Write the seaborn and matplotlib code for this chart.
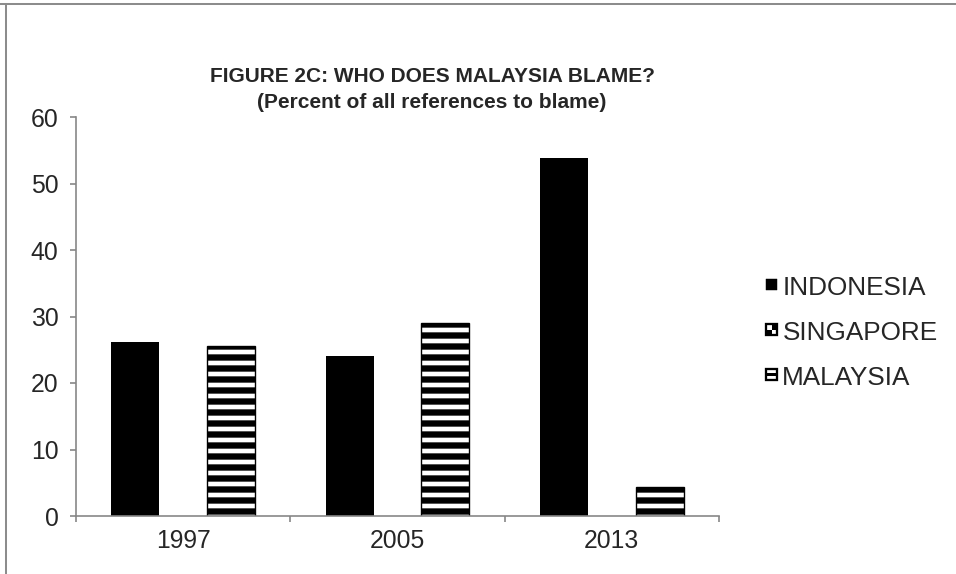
import matplotlib
matplotlib.use("Agg")
import matplotlib.pyplot as plt
import seaborn as sns
import pandas as pd
from matplotlib.lines import Line2D
from matplotlib.patches import Patch, Rectangle
from matplotlib.legend_handler import HandlerBase

# Data
years = ["1997", "2005", "2013"]
countries = ["INDONESIA", "SINGAPORE", "MALAYSIA"]
indonesia = [26.1, 24.1, 53.8]
singapore = [0.0, 0.0, 0.0]
malaysia = [25.6, 29.0, 4.4]

df = pd.DataFrame({
    "year": years * 3,
    "country": [c for c in countries for _ in years],
    "value": indonesia + singapore + malaysia,
})

# Style
sns.set_style("white")
plt.rcParams["font.family"] = ["Liberation Sans", "DejaVu Sans"]
plt.rcParams["hatch.linewidth"] = 6.9
plt.rcParams["hatch.color"] = "black"

DPI = 66
GRAY = "#868686"

fig = plt.figure(figsize=(956 / DPI, 574 / DPI), dpi=DPI)
ax = fig.add_axes([76 / 956, 58 / 574, 643 / 956, 399 / 574])

sns.barplot(
    data=df,
    x="year",
    y="value",
    hue="country",
    hue_order=countries,
    palette={"INDONESIA": "black", "SINGAPORE": "white", "MALAYSIA": "white"},
    saturation=1,
    width=0.67,
    legend=False,
    ax=ax,
)

for country, bars in zip(countries, ax.containers):
    for bar in bars:
        if country == "INDONESIA":
            bar.set_edgecolor("none")
        elif country == "MALAYSIA":
            bar.set_facecolor("white")
            bar.set_edgecolor("black")
            bar.set_linewidth(1.5)
            bar.set_hatch("-")
        else:
            bar.set_linewidth(0)

ax.set_ylim(0, 60)
ax.set_xlim(-0.5, 2.5)
ax.set_yticks(range(0, 61, 10))
ax.set_xlabel("")
ax.set_ylabel("")

sns.despine(ax=ax)
for side in ["left", "bottom"]:
    ax.spines[side].set_color(GRAY)
    ax.spines[side].set_linewidth(1.8)

ax.set_xticks([-0.5, 0.5, 1.5, 2.5], minor=True)
ax.tick_params(axis="x", which="major", length=0, pad=14, labelsize=27)
ax.tick_params(axis="x", which="minor", length=7, width=1.8, color=GRAY, direction="out")
ax.tick_params(axis="y", length=7, width=1.8, color=GRAY, direction="out", pad=12, labelsize=27)
ax.tick_params(axis="both", bottom=True, left=True, which="both")
ax.tick_params(axis="x", which="major", bottom=False)


# Legend icons
class IconHandler(HandlerBase):
    def __init__(self, kind):
        super().__init__()
        self.kind = kind

    def create_artists(self, legend, orig_handle, xdescent, ydescent,
                       width, height, fontsize, trans):
        s = 12
        x0 = -xdescent + width - s
        y0 = -ydescent + (height - s) / 2 + 1
        arts = []
        if self.kind == "INDONESIA":
            arts.append(Rectangle((x0, y0), s, s, fc="black", ec="black", lw=0.5, transform=trans))
        elif self.kind == "SINGAPORE":
            arts.append(Rectangle((x0, y0), s, s, fc="white", ec="black", lw=2.5, transform=trans))
            arts.append(Rectangle((x0 + s / 2, y0 + s / 2), s / 2, s / 2, fc="black", ec="none", transform=trans))
            arts.append(Rectangle((x0, y0), s / 2, s / 2, fc="black", ec="none", transform=trans))
        else:
            arts.append(Rectangle((x0, y0), s, s, fc="white", ec="black", lw=2.5, transform=trans))
            arts.append(Rectangle((x0, y0 + s * 0.35), s, s * 0.3, fc="black", ec="none", transform=trans))
        return arts


handles = [Patch(label=c) for c in countries]
fig.legend(
    handles=handles,
    labels=countries,
    handler_map={h: IconHandler(c) for h, c in zip(handles, countries)},
    loc="center left",
    bbox_to_anchor=(751 / 956, 1 - 333 / 574),
    frameon=False,
    fontsize=28.5,
    handlelength=0.5,
    handleheight=0.5,
    handletextpad=0.2,
    labelspacing=0.8,
    borderpad=0,
)

# Title
fig.text(432 / 956, 1 - 77 / 574, "FIGURE 2C: WHO DOES MALAYSIA BLAME?",
         ha="center", va="center", fontsize=22.8, fontweight="bold")
fig.text(432 / 956, 1 - 102 / 574, "(Percent of all references to blame)",
         ha="center", va="center", fontsize=22.8, fontweight="bold")

# Chart frame
fig.add_artist(Line2D([0, 1], [1 - 4 / 574, 1 - 4 / 574], transform=fig.transFigure,
                      color="#8c8c8c", lw=2.2))
fig.add_artist(Line2D([6 / 956, 6 / 956], [0, 1 - 4 / 574], transform=fig.transFigure,
                      color="#8c8c8c", lw=2.2))

plt.savefig("out.png", dpi=DPI)
